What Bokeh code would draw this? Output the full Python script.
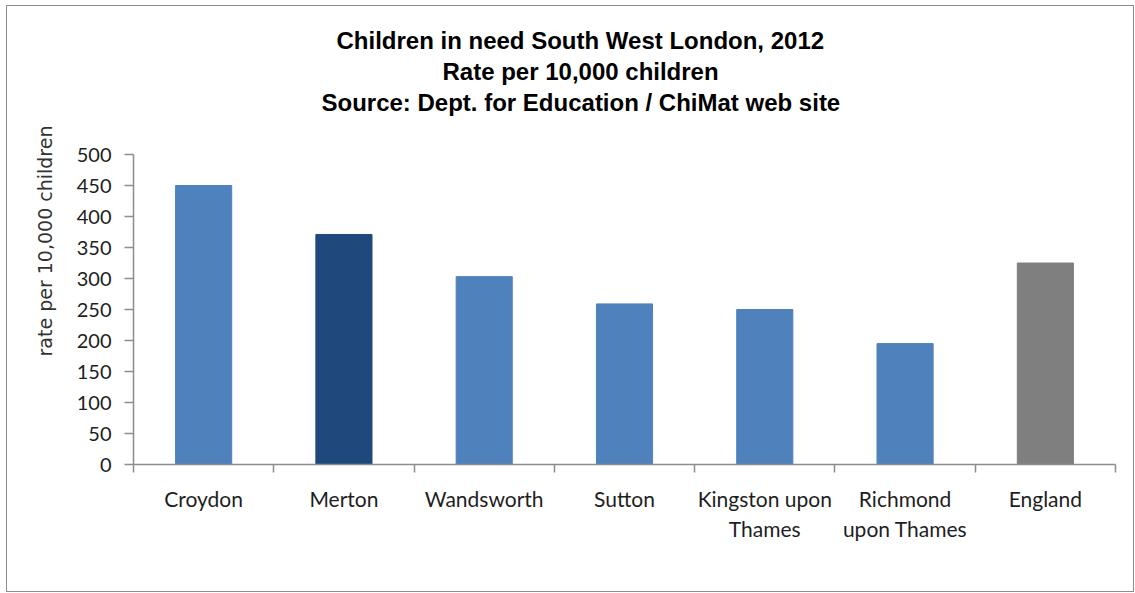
from bokeh.plotting import figure
from bokeh.models import Range1d, FixedTicker, LinearAxis, Title
from bokeh.embed import file_html
from bokeh.resources import INLINE

# ---- data ----
categories = ["Croydon", "Merton", "Wandsworth", "Sutton",
              "Kingston upon\nThames", "Richmond\nupon Thames", "England"]
rates = [450, 371, 303, 259, 250, 195, 325]
bar_colors = ["#4F81BD", "#1F497D", "#4F81BD", "#4F81BD", "#4F81BD", "#4F81BD", "#7F7F7F"]
y_tick_values = [0, 50, 100, 150, 200, 250, 300, 350, 400, 450, 500]
title_lines = ["Children in need South West London, 2012",
               "Rate per 10,000 children",
               "Source: Dept. for Education / ChiMat web site"]
title_offsets = [203, 309, 188]
y_label_text = "rate per 10,000 children"

n = len(categories)
centers = [i + 0.5 for i in range(n)]
boundaries = [float(i) for i in range(n + 1)]

GRID = "#8c8c8c"
TXT = "#1e1e1e"
TICK_FONT = "Lato"

p = figure(frame_width=982, frame_height=310,
           min_border_left=126, min_border_right=18,
           min_border_top=148, min_border_bottom=127,
           x_range=Range1d(0, n), y_range=Range1d(0, y_tick_values[-1]),
           x_axis_type=None, y_axis_type=None,
           output_backend="svg", toolbar_location=None, title=None)
p.outline_line_color = None
p.background_fill_color = "white"
p.border_fill_color = "white"
p.styles = {"border": "1px solid #8c8c8c", "margin-left": "6px", "margin-top": "5px"}

# y axis
yaxis = LinearAxis(ticker=FixedTicker(ticks=y_tick_values))
yaxis.axis_line_color = GRID
yaxis.axis_line_width = 1.5
yaxis.major_tick_line_color = GRID
yaxis.major_tick_line_width = 1.5
yaxis.major_tick_out = 9
yaxis.major_tick_in = 0
yaxis.minor_tick_line_color = None
yaxis.major_label_text_font = TICK_FONT
yaxis.major_label_text_font_size = "20px"
yaxis.major_label_text_color = TXT
yaxis.major_label_standoff = 13
p.add_layout(yaxis, "left")

# y axis title (rotated, placed like the original: starting above the middle)
p.add_layout(Title(text=y_label_text, align="left", offset=108,
                   vertical_align="middle", standoff=34,
                   text_font="DejaVu Sans", text_font_size="19px",
                   text_font_style="normal", text_color="#333333"), "left")

# x axis: labels at centers, ticks at boundaries
xaxis = LinearAxis(ticker=FixedTicker(ticks=centers, minor_ticks=boundaries))
xaxis.major_label_overrides = {c: lab for c, lab in zip(centers, categories)}
xaxis.axis_line_color = GRID
xaxis.axis_line_width = 1.5
xaxis.major_tick_line_color = None
xaxis.major_tick_out = 0
xaxis.major_tick_in = 0
xaxis.minor_tick_line_color = GRID
xaxis.minor_tick_line_width = 1.5
xaxis.minor_tick_out = 8
xaxis.minor_tick_in = 0
xaxis.major_label_text_font = TICK_FONT
xaxis.major_label_text_font_size = "21px"
xaxis.major_label_text_color = TXT
xaxis.major_label_text_line_height = 1.2
xaxis.major_label_standoff = 13
p.add_layout(xaxis, "below")

p.ygrid.ticker = FixedTicker(ticks=y_tick_values)
p.ygrid.grid_line_color = GRID
p.ygrid.grid_line_width = 1.5
p.xgrid.visible = False

p.vbar(x=centers, top=rates, width=0.4, bottom=0, fill_color=bar_colors,
       line_color=bar_colors)

# blank spacer between the frame and the title block: one white tick at the
# frame's top-left corner, with an empty label
spacer = LinearAxis(ticker=FixedTicker(ticks=[0]))
spacer.major_label_overrides = {0: ""}
spacer.axis_line_color = None
spacer.major_tick_line_color = "white"
spacer.minor_tick_line_color = None
spacer.major_tick_out = 37
spacer.major_tick_in = 0
spacer.minor_tick_out = 0
spacer.major_label_standoff = 0
spacer.major_label_text_font_size = "1px"
p.add_layout(spacer, "above")

# title lines: added bottom line first (nearest the frame)
for txt, off in reversed(list(zip(title_lines, title_offsets))):
    p.add_layout(Title(text=txt, align="left", offset=off, vertical_align="middle",
                       standoff=2, text_font="Liberation Sans",
                       text_font_style="bold", text_font_size="24px",
                       text_color="#000000"), "above")

open("out.html", "w").write(file_html(p, INLINE))
